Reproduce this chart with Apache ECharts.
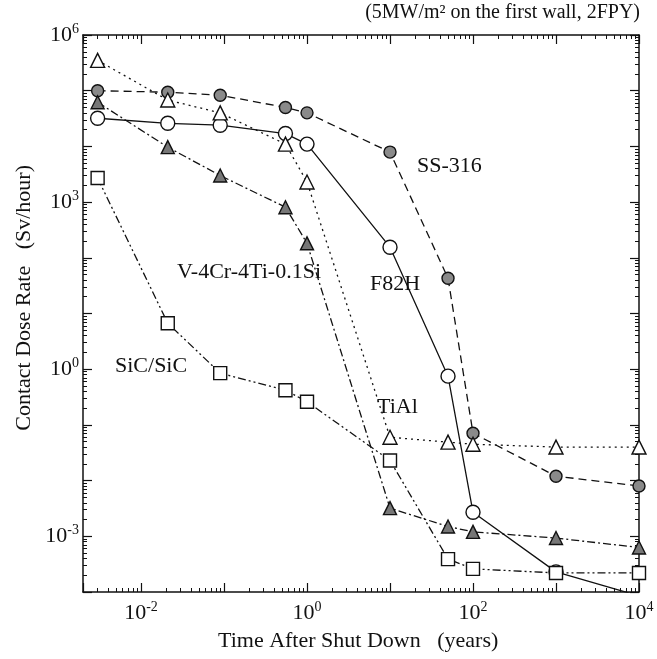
<!DOCTYPE html>
<html>
<head>
<meta charset="utf-8">
<script src="https://cdn.jsdelivr.net/npm/echarts@6/dist/echarts.min.js"></script>
<style>
html, body { margin: 0; padding: 0; background: #fff; }
#chart { width: 657px; height: 659px; }
</style>
</head>
<body>
<div id="chart"></div>
<script>
// time after shut down (years)
const times = [0.003, 0.021, 0.09, 0.55, 1, 10, 50, 100, 1000, 10000];

// contact dose rate (Sv/hour)
const ss316 = [1.0e5, 9.4e4, 8.3e4, 5.0e4, 4.0e4, 7.9e3, 43, 0.071, 0.012, 0.008];
const f82h  = [3.2e4, 2.6e4, 2.4e4, 1.7e4, 1.1e4, 155, 0.75, 0.0027, 2.3e-4, 8.5e-5];
const tial  = [3.5e5, 6.8e4, 4.0e4, 1.1e4, 2.3e3, 0.060, 0.049, 0.045, 0.040, 0.040];
const vcrti = [6.2e4, 9.7e3, 3.0e3, 810, 182, 0.0032, 0.0015, 0.0012, 9.3e-4, 6.3e-4];
const sic   = [2.7e3, 6.7, 0.85, 0.42, 0.26, 0.023, 3.9e-4, 2.6e-4, 2.2e-4, 2.2e-4];

const FONT = '"Liberation Serif", "DejaVu Serif", serif';

function pairs(ys) {
    return times.map(function (t, i) { return [t, ys[i]]; });
}

function powLabel(step) {
    return function (v) {
        const e = Math.log10(v);
        const r = Math.round(e);
        if (Math.abs(e - r) > 1e-6 || r % step !== 0) return '';
        return '{b|10}{s|' + r + '}';
    };
}

const labelRich = {
    b: { fontFamily: FONT, fontSize: 22, color: '#111', lineHeight: 26 },
    s: { fontFamily: FONT, fontSize: 14, color: '#111', verticalAlign: 'top', lineHeight: 26 }
};

const lineAxis = { show: true, onZero: false, lineStyle: { color: '#111', width: 1.5 } };
const majorTick = { show: true, inside: true, length: 9, lineStyle: { color: '#111', width: 1.2 } };
const minorTick = { show: true, splitNumber: 9, length: 4, lineStyle: { color: '#111', width: 1 } };

function xAxisOf(pos, showLabel) {
    return {
        type: 'log', logBase: 10, position: pos,
        min: 0.002, max: 10000, splitNumber: 6,
        axisLine: lineAxis, axisTick: majorTick, minorTick: minorTick,
        splitLine: { show: false }, minorSplitLine: { show: false },
        axisLabel: { show: showLabel, margin: 8, formatter: powLabel(2), rich: labelRich,
            showMinLabel: false }
    };
}

function yAxisOf(pos, showLabel) {
    return {
        type: 'log', logBase: 10, position: pos,
        min: 1e-4, max: 1e6, interval: 1,
        axisLine: lineAxis, axisTick: majorTick, minorTick: minorTick,
        splitLine: { show: false }, minorSplitLine: { show: false },
        axisLabel: { show: showLabel, margin: 4, formatter: powLabel(3), rich: labelRich }
    };
}

function mkSeries(name, ys, dash, symbol, size, fill) {
    return {
        name: name, type: 'line', data: pairs(ys),
        symbol: symbol, symbolSize: size, showAllSymbol: true,
        lineStyle: { color: '#111', width: 1.3, type: dash },
        itemStyle: { color: fill, borderColor: '#111', borderWidth: 1.4 },
        emphasis: { disabled: true }, clip: true, z: 3
    };
}

function note(text, x, y, size) {
    return {
        type: 'text', left: x, top: y,
        style: { text: text, fill: '#111', font: size + 'px ' + FONT }
    };
}

const chart = echarts.init(document.getElementById('chart'), null, { renderer: 'canvas' });
chart.setOption({
    animation: false,
    backgroundColor: '#fff',
    grid: { left: 83, right: 18, top: 35, bottom: 67, containLabel: false },
    xAxis: [xAxisOf('bottom', true), xAxisOf('top', false)],
    yAxis: [yAxisOf('left', true), yAxisOf('right', false)],
    series: [
        mkSeries('SS-316', ss316, [8, 5], 'circle', 12, '#8a8a8a'),
        mkSeries('F82H', f82h, 'solid', 'circle', 14, '#fff'),
        mkSeries('TiAl', tial, [2, 4], 'triangle', 14, '#fff'),
        mkSeries('V-4Cr-4Ti-0.1Si', vcrti, [8, 3, 2, 3], 'triangle', 13, '#777'),
        mkSeries('SiC/SiC', sic, [8, 3, 2, 3, 2, 3], 'rect', 13, '#fff')
    ],
    graphic: [
        {
            type: 'text', right: 17, top: 3,
            style: { text: '(5MW/m\u00b2 on the first wall, 2FPY)', fill: '#111', font: '20px ' + FONT }
        },
        note('SS-316', 417, 155, 22),
        note('F82H', 370, 273, 22),
        note('V-4Cr-4Ti-0.1Si', 177, 261, 22),
        note('TiAl', 377, 396, 22),
        note('SiC/SiC', 115, 355, 22),
        note('Time After Shut Down   (years)', 218, 630, 22),
        {
            type: 'text', left: 13, top: 165, rotation: Math.PI / 2,
            style: { text: 'Contact Dose Rate   (Sv/hour)', fill: '#111', font: '22px ' + FONT }
        }
    ]
});
</script>
</body>
</html>
